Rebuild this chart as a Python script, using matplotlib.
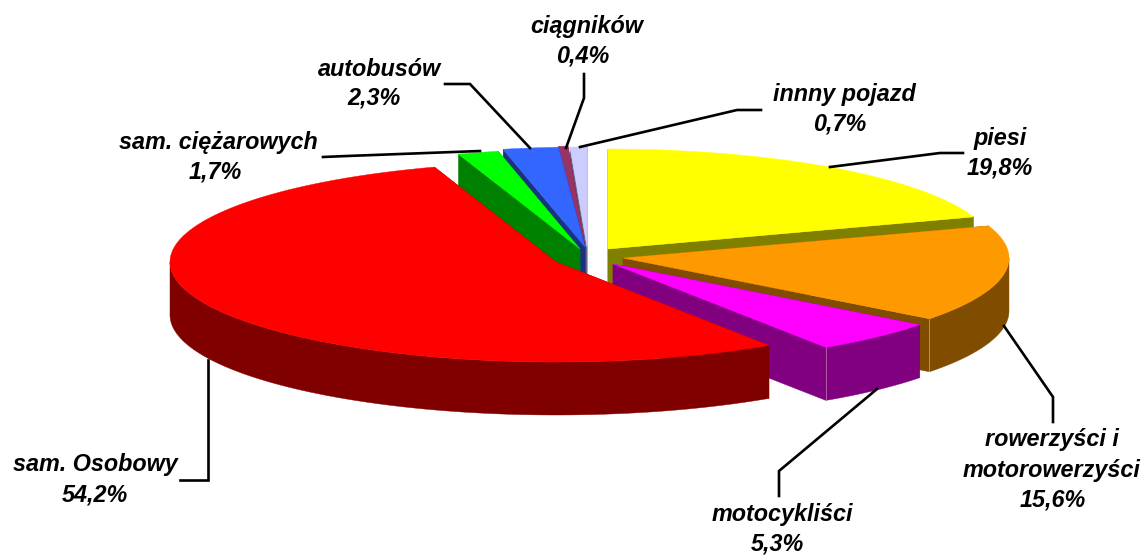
import numpy as np
import matplotlib

matplotlib.use("Agg")
import matplotlib.pyplot as plt
from matplotlib.patches import Polygon

# "innny" is spelled this way in the source chart
categories = ["piesi", "rowerzyści i\nmotorowerzyści", "motocykliści", "sam. Osobowy",
              "sam. ciężarowych", "autobusów", "ciągników", "innny pojazd"]
shares = [19.8, 15.6, 5.3, 54.2, 1.7, 2.3, 0.4, 0.7]

top_colors = ["#ffff00", "#ff9900", "#ff00ff", "#ff0000", "#00ff00", "#3366ff", "#993366", "#ccccff"]
side_colors = ["#808000", "#804c00", "#800080", "#800000", "#008000", "#1a3380", "#4d1a33", "#666680"]

# apex of each exploded slice, in pixels of the 1148x557 image
apex = [(608, 249), (623, 258), (613, 264), (556, 262), (580, 249), (585, 247), (585, 246), (587, 247)]
RX, RY, DEPTH = 386, 100, 53
# back to front, red sits over everything on the left
draw_order = [7, 6, 5, 4, 0, 1, 2, 3]

leaders = [
    [(830, 167), (940, 153), (963, 153)],
    [(1004, 326), (1053, 397), (1053, 422)],
    [(877, 389), (779, 471), (779, 496)],
    [(208, 360), (208, 480), (180, 480)],
    [(323, 157), (347, 156), (480, 151)],
    [(445, 84), (470, 84), (530, 148)],
    [(566, 148), (584, 98), (584, 74)],
    [(580, 147), (737, 110), (761, 110)],
]
name_xy = [(1000, 138), (1052, 455), (782, 515), (95, 465), (218, 143), (379, 69), (587, 26), (844, 95)]
value_xy = [(1000, 168), (1053, 500), (777, 544), (95, 495), (215, 172), (374, 98), (583, 56), (840, 124)]

plt.rcParams["font.family"] = ["Liberation Sans", "DejaVu Sans"]

fig = plt.figure(figsize=(11.48, 5.57), dpi=100)
ax = fig.add_axes([0, 0, 1, 1])
ax.set_xlim(0, 1148)
ax.set_ylim(557, 0)
ax.axis("off")


def rim(center, a0, a1, drop=0):
    # angles are clockwise from 12 o'clock
    t = np.radians(np.linspace(a0, a1, max(int(abs(a1 - a0) * 2), 2)))
    return np.column_stack([center[0] + RX * np.sin(t), center[1] - RY * np.cos(t) + drop])


def fill(points, color, z):
    ax.add_patch(Polygon(points, closed=True, facecolor=color, edgecolor=color, lw=0.3, zorder=z))


edges = np.concatenate([[0], np.cumsum(shares)]) / sum(shares) * 360
for rank, i in enumerate(draw_order):
    a0, a1 = edges[i], edges[i + 1]
    c = apex[i]
    z = 2 + rank
    for a in (a0, a1):
        p = rim(c, a, a)[0]
        fill([c, p, (p[0], p[1] + DEPTH), (c[0], c[1] + DEPTH)], side_colors[i], z)
    f0, f1 = max(a0, 90), min(a1, 270)
    if f1 > f0:
        front = rim(c, f0, f1)
        fill(np.vstack([front, rim(c, f1, f0, DEPTH)]), side_colors[i], z)
        # faint highlight on the wall corner
        if i in (1, 2):
            ax.plot([front[-1][0]] * 2, [front[-1][1], front[-1][1] + DEPTH], color="white", alpha=0.35, lw=0.7, zorder=z)
    fill(np.vstack([[c], rim(c, a0, a1)]), top_colors[i], z + 0.5)

for pts in leaders:
    xs, ys = zip(*pts)
    ax.plot(xs, ys, color="black", lw=1.9, solid_joinstyle="miter", zorder=20)

style = dict(ha="center", va="center", fontsize=16.8, fontweight="bold", fontstyle="italic",
             color="black", zorder=21, linespacing=1.41)
for name, nxy, vxy, v in zip(categories, name_xy, value_xy, shares):
    ax.text(nxy[0], nxy[1], name, **style)
    ax.text(vxy[0], vxy[1], f"{v:.1f}%".replace(".", ","), **style)

fig.savefig("out.png", dpi=100)
